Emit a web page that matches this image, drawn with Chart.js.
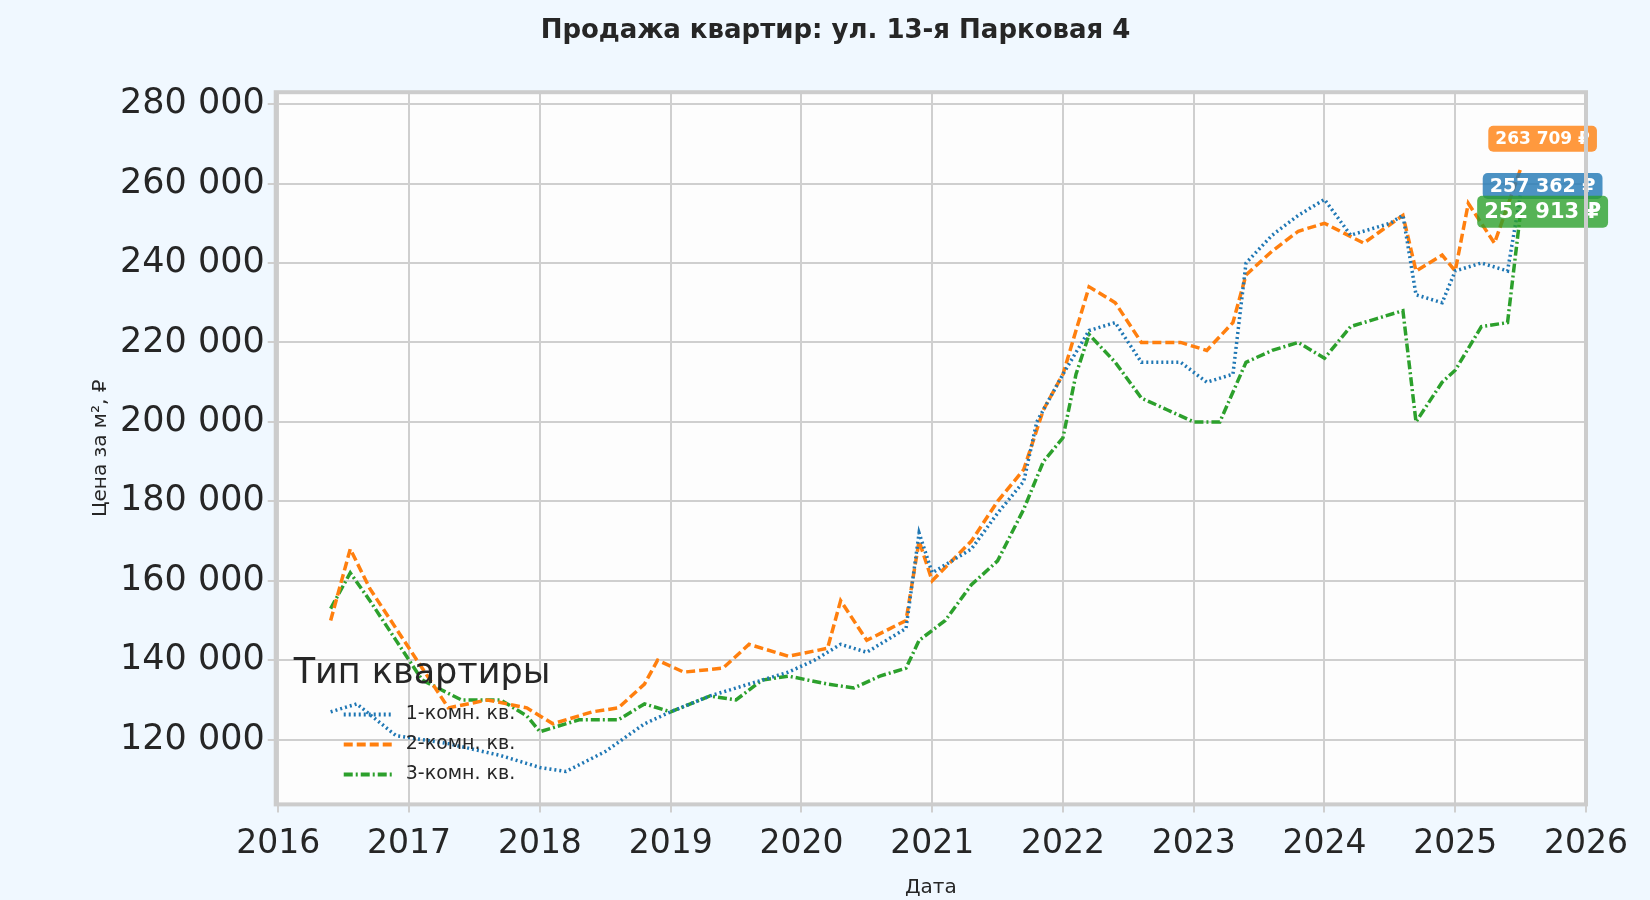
<!DOCTYPE html>
<html>
<head>
<meta charset="utf-8">
<script src="https://cdn.jsdelivr.net/npm/chart.js@4"></script>
<style>
  html, body { margin: 0; background: #f0f8ff; }
  #wrap { width: 1650px; height: 900px; }
</style>
</head>
<body>
<div id="wrap"><canvas id="chart"></canvas></div>
<script>
const oneRoomX = [2016.4,2016.6,2016.9,2017.3,2017.7,2018.0,2018.2,2018.5,2018.8,2019.0,2019.3,2019.6,2019.9,2020.1,2020.3,2020.5,2020.8,2020.9,2021.0,2021.3,2021.5,2021.7,2021.8,2022.0,2022.2,2022.4,2022.6,2022.9,2023.1,2023.3,2023.4,2023.6,2023.8,2024.0,2024.2,2024.5,2024.6,2024.7,2024.9,2025.0,2025.2,2025.4,2025.5];
const oneRoom = [127000,129000,121000,119000,116000,113000,112000,117000,124000,127000,131000,134000,137000,140000,144000,142000,148000,172000,162000,168000,177000,185000,200000,212000,223000,225000,215000,215000,210000,212000,240000,247000,252000,256000,247000,250000,252000,232000,230000,238000,240000,238000,257362];

const twoRoomX = [2016.4,2016.55,2016.7,2016.9,2017.0,2017.3,2017.6,2017.9,2018.1,2018.4,2018.6,2018.8,2018.9,2019.1,2019.4,2019.6,2019.9,2020.2,2020.3,2020.5,2020.8,2020.9,2021.0,2021.3,2021.5,2021.7,2021.85,2022.0,2022.2,2022.4,2022.6,2022.9,2023.1,2023.3,2023.4,2023.6,2023.8,2024.0,2024.3,2024.6,2024.7,2024.9,2025.0,2025.1,2025.3,2025.5];
const twoRoom = [150000,168000,158000,148000,143000,128000,130000,128000,124000,127000,128000,134000,140000,137000,138000,144000,141000,143000,155000,145000,150000,170000,160000,170000,180000,188000,203000,212000,234000,230000,220000,220000,218000,225000,237000,243000,248000,250000,245000,252000,238000,242000,238000,255000,245000,263709];

const threeRoomX = [2016.4,2016.55,2016.7,2016.9,2017.1,2017.4,2017.7,2017.9,2018.0,2018.3,2018.6,2018.8,2019.0,2019.3,2019.5,2019.7,2019.9,2020.2,2020.4,2020.6,2020.8,2020.9,2021.1,2021.3,2021.5,2021.7,2021.85,2022.0,2022.1,2022.2,2022.4,2022.6,2022.8,2023.0,2023.2,2023.4,2023.6,2023.8,2024.0,2024.2,2024.4,2024.6,2024.7,2024.9,2025.0,2025.2,2025.4,2025.5];
const threeRoom = [153000,162000,155000,145000,135000,130000,130000,126000,122000,125000,125000,129000,127000,131000,130000,135000,136000,134000,133000,136000,138000,145000,150000,159000,165000,178000,190000,196000,212000,222000,215000,206000,203000,200000,200000,215000,218000,220000,216000,224000,226000,228000,200000,210000,213000,224000,225000,252913];

const seriesNames = ['1-комн. кв.', '2-комн. кв.', '3-комн. кв.'];
const seriesColors = ['#1f77b4', '#ff7f0e', '#2ca02c'];
const seriesDash = [[2, 3], [9, 4], [9, 3, 2, 3]];
const yTicks = [120000,140000,160000,180000,200000,220000,240000,260000,280000];

const pts = (xs, ys) => xs.map((x, i) => ({ x: x, y: ys[i] }));
const fmt = v => Math.round(v).toString().replace(/\B(?=(\d{3})+(?!\d))/g, ' ');

const endLabels = {
  id: 'endLabels',
  afterDatasetsDraw(chart) {
    const ctx = chart.ctx;
    const offsets = [-8, -30, 0];
    chart.data.datasets.forEach((ds, i) => {
      const meta = chart.getDatasetMeta(i);
      const p = meta.data[meta.data.length - 1];
      const txt = fmt(ds.data[ds.data.length - 1].y) + ' ₽';
      ctx.save();
      ctx.font = 'bold ' + (i === 0 ? 19 : i === 1 ? 17 : 21) + 'px "DejaVu Sans"';
      const w = ctx.measureText(txt).width + 14;
      const h = i === 2 ? 32 : 26;
      const x = p.x - w / 2 + 22, y = p.y + offsets[i] - h / 2;
      ctx.fillStyle = seriesColors[i] + 'cc';
      ctx.beginPath();
      ctx.roundRect(x, y, w, h, 5);
      ctx.fill();
      ctx.fillStyle = '#fff';
      ctx.textBaseline = 'middle';
      ctx.fillText(txt, x + 7, y + h / 2 + 1);
      ctx.restore();
    });
  }
};

const innerLegend = {
  id: 'innerLegend',
  afterDatasetsDraw(chart) {
    const ctx = chart.ctx, a = chart.chartArea;
    const x0 = a.left + 18, y0 = a.bottom - 130;
    ctx.save();
    ctx.fillStyle = '#262626';
    ctx.font = '35px "DejaVu Sans"';
    ctx.textBaseline = 'middle';
    ctx.fillText('Тип квартиры', x0, y0);
    ctx.font = '19px "DejaVu Sans"';
    seriesNames.forEach((n, i) => {
      const y = y0 + 40 + i * 30;
      ctx.strokeStyle = seriesColors[i];
      ctx.lineWidth = 4;
      ctx.setLineDash(seriesDash[i]);
      ctx.beginPath();
      ctx.moveTo(x0 + 50, y); ctx.lineTo(x0 + 100, y);
      ctx.stroke();
      ctx.fillText(n, x0 + 112, y);
    });
    ctx.restore();
  }
};

const plotBg = {
  id: 'plotBg',
  beforeDraw(chart) {
    const ctx = chart.ctx, a = chart.chartArea;
    ctx.save();
    ctx.fillStyle = '#f0f8ff';
    ctx.fillRect(0, 0, chart.width, chart.height);
    ctx.fillStyle = '#fdfdfd';
    ctx.fillRect(a.left, a.top, a.right - a.left, a.bottom - a.top);
    ctx.restore();
  },
  afterDraw(chart) {
    const ctx = chart.ctx, a = chart.chartArea;
    ctx.save();
    ctx.strokeStyle = '#cccccc';
    ctx.lineWidth = 4;
    ctx.strokeRect(a.left, a.top, a.right - a.left, a.bottom - a.top);
    ctx.restore();
  }
};

new Chart(document.getElementById('chart'), {
  type: 'line',
  data: {
    datasets: [
      { label: seriesNames[0], data: pts(oneRoomX, oneRoom) },
      { label: seriesNames[1], data: pts(twoRoomX, twoRoom) },
      { label: seriesNames[2], data: pts(threeRoomX, threeRoom) }
    ].map((d, i) => Object.assign(d, {
      borderColor: seriesColors[i],
      borderDash: seriesDash[i],
      borderWidth: 3.5,
      pointRadius: 0,
      tension: 0,
      fill: false
    }))
  },
  options: {
    responsive: true,
    maintainAspectRatio: false,
    animation: false,
    layout: { padding: { left: 85, right: 64, top: 10, bottom: 0 } },
    scales: {
      x: {
        type: 'linear',
        min: 2015.98, max: 2026,
        afterBuildTicks: s => { s.ticks = [2016,2017,2018,2019,2020,2021,2022,2023,2024,2025,2026].map(v => ({ value: v })); },
        ticks: { color: '#262626', font: { size: 33, family: 'DejaVu Sans' }, callback: v => String(v), maxRotation: 0, padding: 12 },
        grid: { color: '#cfcfcf', lineWidth: 2 },
        border: { display: false },
        title: { display: true, text: 'Дата', color: '#262626', font: { size: 20, family: 'DejaVu Sans' }, padding: 0 }
      },
      y: {
        min: 103700, max: 283000,
        afterBuildTicks: s => { s.ticks = yTicks.map(v => ({ value: v })); },
        ticks: { color: '#262626', font: { size: 35, family: 'DejaVu Sans' }, callback: v => fmt(v) },
        grid: { color: '#cfcfcf', lineWidth: 2 },
        border: { display: false },
        title: { display: true, text: 'Цена за м², ₽', color: '#262626', font: { size: 20, family: 'DejaVu Sans' } }
      }
    },
    plugins: {
      legend: { display: false },
      tooltip: { enabled: false },
      title: {
        display: true,
        text: 'Продажа квартир: ул. 13-я Парковая 4',
        color: '#262626',
        font: { size: 26, weight: 'bold', family: 'DejaVu Sans' },
        padding: { top: 6, bottom: 45 }
      }
    }
  },
  plugins: [plotBg, innerLegend, endLabels]
});
</script>
</body>
</html>
